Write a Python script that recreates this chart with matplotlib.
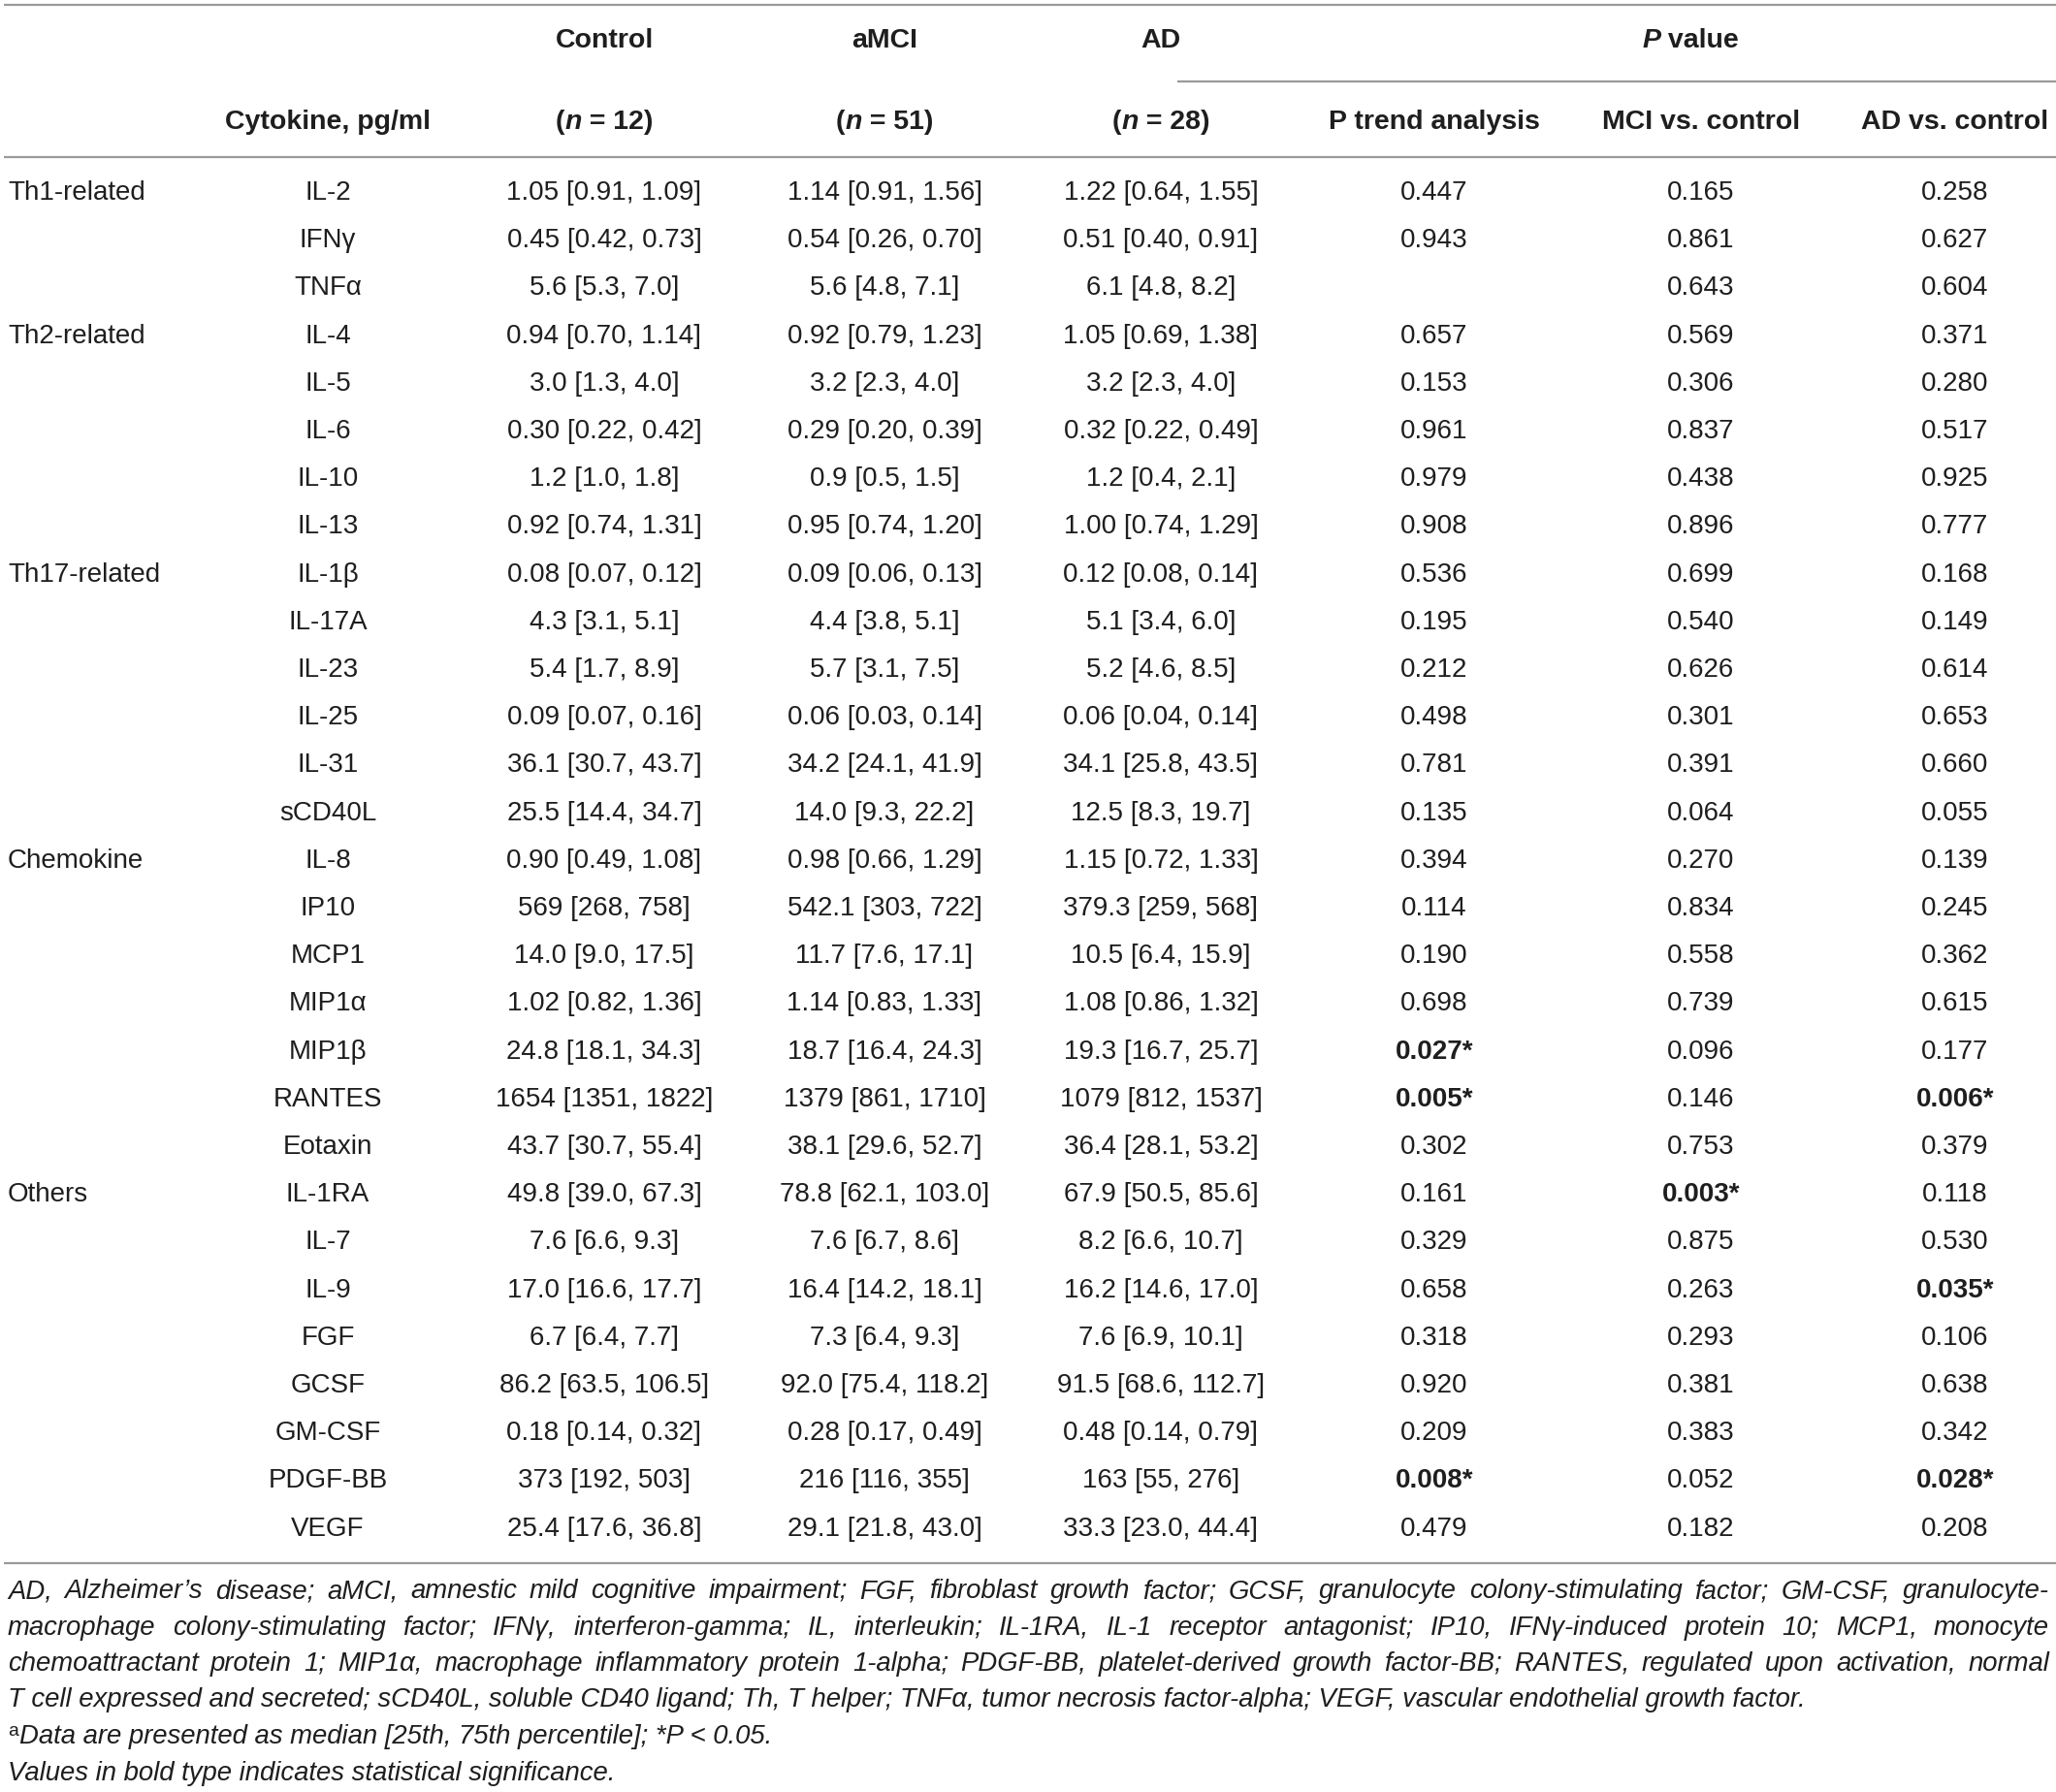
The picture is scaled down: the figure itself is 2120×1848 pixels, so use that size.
import matplotlib
matplotlib.use("Agg")
import matplotlib.pyplot as plt
from matplotlib.font_manager import FontProperties

# ---------------- data ----------------
groups = ["Th1-related", "Th2-related", "Th17-related", "Chemokine", "Others"]
group_start = [0, 3, 8, 14, 21]

cytokines = ["IL-2", "IFNγ", "TNFα", "IL-4", "IL-5", "IL-6", "IL-10", "IL-13",
             "IL-1β", "IL-17A", "IL-23", "IL-25", "IL-31", "sCD40L",
             "IL-8", "IP10", "MCP1", "MIP1α", "MIP1β", "RANTES", "Eotaxin",
             "IL-1RA", "IL-7", "IL-9", "FGF", "GCSF", "GM-CSF", "PDGF-BB", "VEGF"]

control = ["1.05 [0.91, 1.09]", "0.45 [0.42, 0.73]", "5.6 [5.3, 7.0]", "0.94 [0.70, 1.14]",
           "3.0 [1.3, 4.0]", "0.30 [0.22, 0.42]", "1.2 [1.0, 1.8]", "0.92 [0.74, 1.31]",
           "0.08 [0.07, 0.12]", "4.3 [3.1, 5.1]", "5.4 [1.7, 8.9]", "0.09 [0.07, 0.16]",
           "36.1 [30.7, 43.7]", "25.5 [14.4, 34.7]", "0.90 [0.49, 1.08]", "569 [268, 758]",
           "14.0 [9.0, 17.5]", "1.02 [0.82, 1.36]", "24.8 [18.1, 34.3]", "1654 [1351, 1822]",
           "43.7 [30.7, 55.4]", "49.8 [39.0, 67.3]", "7.6 [6.6, 9.3]", "17.0 [16.6, 17.7]",
           "6.7 [6.4, 7.7]", "86.2 [63.5, 106.5]", "0.18 [0.14, 0.32]", "373 [192, 503]",
           "25.4 [17.6, 36.8]"]

amci = ["1.14 [0.91, 1.56]", "0.54 [0.26, 0.70]", "5.6 [4.8, 7.1]", "0.92 [0.79, 1.23]",
        "3.2 [2.3, 4.0]", "0.29 [0.20, 0.39]", "0.9 [0.5, 1.5]", "0.95 [0.74, 1.20]",
        "0.09 [0.06, 0.13]", "4.4 [3.8, 5.1]", "5.7 [3.1, 7.5]", "0.06 [0.03, 0.14]",
        "34.2 [24.1, 41.9]", "14.0 [9.3, 22.2]", "0.98 [0.66, 1.29]", "542.1 [303, 722]",
        "11.7 [7.6, 17.1]", "1.14 [0.83, 1.33]", "18.7 [16.4, 24.3]", "1379 [861, 1710]",
        "38.1 [29.6, 52.7]", "78.8 [62.1, 103.0]", "7.6 [6.7, 8.6]", "16.4 [14.2, 18.1]",
        "7.3 [6.4, 9.3]", "92.0 [75.4, 118.2]", "0.28 [0.17, 0.49]", "216 [116, 355]",
        "29.1 [21.8, 43.0]"]

ad = ["1.22 [0.64, 1.55]", "0.51 [0.40, 0.91]", "6.1 [4.8, 8.2]", "1.05 [0.69, 1.38]",
      "3.2 [2.3, 4.0]", "0.32 [0.22, 0.49]", "1.2 [0.4, 2.1]", "1.00 [0.74, 1.29]",
      "0.12 [0.08, 0.14]", "5.1 [3.4, 6.0]", "5.2 [4.6, 8.5]", "0.06 [0.04, 0.14]",
      "34.1 [25.8, 43.5]", "12.5 [8.3, 19.7]", "1.15 [0.72, 1.33]", "379.3 [259, 568]",
      "10.5 [6.4, 15.9]", "1.08 [0.86, 1.32]", "19.3 [16.7, 25.7]", "1079 [812, 1537]",
      "36.4 [28.1, 53.2]", "67.9 [50.5, 85.6]", "8.2 [6.6, 10.7]", "16.2 [14.6, 17.0]",
      "7.6 [6.9, 10.1]", "91.5 [68.6, 112.7]", "0.48 [0.14, 0.79]", "163 [55, 276]",
      "33.3 [23.0, 44.4]"]

p_trend = ["0.447", "0.943", "", "0.657", "0.153", "0.961", "0.979", "0.908", "0.536",
           "0.195", "0.212", "0.498", "0.781", "0.135", "0.394", "0.114", "0.190", "0.698",
           "0.027*", "0.005*", "0.302", "0.161", "0.329", "0.658", "0.318", "0.920",
           "0.209", "0.008*", "0.479"]
p_mci = ["0.165", "0.861", "0.643", "0.569", "0.306", "0.837", "0.438", "0.896", "0.699",
         "0.540", "0.626", "0.301", "0.391", "0.064", "0.270", "0.834", "0.558", "0.739",
         "0.096", "0.146", "0.753", "0.003*", "0.875", "0.263", "0.293", "0.381", "0.383",
         "0.052", "0.182"]
p_ad = ["0.258", "0.627", "0.604", "0.371", "0.280", "0.517", "0.925", "0.777", "0.168",
        "0.149", "0.614", "0.653", "0.660", "0.055", "0.139", "0.245", "0.362", "0.615",
        "0.177", "0.006*", "0.379", "0.118", "0.530", "0.035*", "0.106", "0.638", "0.342",
        "0.028*", "0.208"]

group_headers = ["Control", "aMCI", "AD"]
group_n = ["12", "51", "28"]
p_headers = ["P trend analysis", "MCI vs. control", "AD vs. control"]

footnote_lines = [
    "AD, Alzheimer’s disease; aMCI, amnestic mild cognitive impairment; FGF, fibroblast growth "
    "factor; GCSF, granulocyte colony-stimulating factor; GM-CSF, granulocyte-",
    "macrophage colony-stimulating factor; IFNγ, interferon-gamma; IL, interleukin; IL-1RA, "
    "IL-1 receptor antagonist; IP10, IFNγ-induced protein 10; MCP1, monocyte",
    "chemoattractant protein 1; MIP1α, macrophage inflammatory protein 1-alpha; PDGF-BB, "
    "platelet-derived growth factor-BB; RANTES, regulated upon activation, normal",
    "T cell expressed and secreted; sCD40L, soluble CD40 ligand; Th, T helper; TNFα, "
    "tumor necrosis factor-alpha; VEGF, vascular endothelial growth factor.",
]
footnote_a = "Data are presented as median [25th, 75th percentile]; *P < 0.05."
footnote_b = "Values in bold type indicates statistical significance."

# ---------------- layout ----------------
W, H = 2120, 1848
FAM = "Liberation Sans"
TXT = "#1e1e1e"
LINE = "#9a9a9a"
FS = 20
FSH = 20.5

fig = plt.figure(figsize=(W / 100, H / 100), dpi=100)
ax = fig.add_axes([0, 0, 1, 1])
ax.set_xlim(0, W)
ax.set_ylim(H, 0)
ax.axis("off")
renderer = fig.canvas.get_renderer()

x_group = 8
x_cols = [338, 623, 912, 1197, 1479, 1754, 2016]
y_h1, y_h2 = 42, 126
y0, dy = 199, 49.2


def tw(s, fp):
    t = ax.text(0, 0, s, fontproperties=fp)
    w = t.get_window_extent(renderer).width
    t.remove()
    return w


def runs(x, y, parts, ha="center", size=FSH):
    fps = [FontProperties(family=FAM, size=size, weight=w, style=st) for (_, w, st) in parts]
    widths = [tw(p[0], fp) for p, fp in zip(parts, fps)]
    total = sum(widths)
    cx = x - total / 2 if ha == "center" else x
    for (s, w, st), fp, wd in zip(parts, fps, widths):
        ax.text(cx, y, s, fontproperties=fp, color=TXT, va="center", ha="left")
        cx += wd


# rules
ax.plot([4, W], [5, 5], color=LINE, lw=1.6, solid_capstyle="butt")
ax.plot([1214, W], [84, 84], color=LINE, lw=1.6, solid_capstyle="butt")
ax.plot([4, W], [162, 162], color=LINE, lw=1.6, solid_capstyle="butt")
ax.plot([4, W], [1612, 1612], color=LINE, lw=1.6, solid_capstyle="butt")

# headers
for x, g, n in zip(x_cols[1:4], group_headers, group_n):
    ax.text(x, y_h1, g, fontsize=FSH, family=FAM, weight="bold", ha="center", va="center", color=TXT)
    runs(x, y_h2, [("(", "bold", "normal"), ("n", "bold", "italic"), (" = " + n + ")", "bold", "normal")])
runs(1743, y_h1, [("P", "bold", "italic"), (" value", "bold", "normal")])
ax.text(x_cols[0], y_h2, "Cytokine, pg/ml", fontsize=FSH, family=FAM, weight="bold",
        ha="center", va="center", color=TXT)
for x, s in zip(x_cols[4:], p_headers):
    ax.text(x, y_h2, s, fontsize=FSH, family=FAM, weight="bold", ha="center", va="center", color=TXT)

# body
for g, i0 in zip(groups, group_start):
    ax.text(x_group, y0 + i0 * dy, g, fontsize=FS, family=FAM, ha="left", va="center", color=TXT)

cols = [cytokines, control, amci, ad, p_trend, p_mci, p_ad]
for ci, col in enumerate(cols):
    for i, s in enumerate(col):
        bold = s.endswith("*")
        ax.text(x_cols[ci], y0 + i * dy, s, fontsize=FS, family=FAM,
                weight="bold" if bold else "normal", ha="center", va="center", color=TXT)

# footnotes: fit size so the last paragraph line roughly matches reference width
left, right = 8, 2113
probe = FontProperties(family=FAM, size=10, style="italic")
FSF = 10 * 1826 / tw(footnote_lines[-1], probe) * 1.02
fpf = FontProperties(family=FAM, size=FSF, style="italic")

yf0, dyf = 1641, 37.5
for li, line in enumerate(footnote_lines):
    y = yf0 + li * dyf
    lw_ = line.split(" ")
    if li < len(footnote_lines) - 1:
        widths = [tw(w_, fpf) for w_ in lw_]
        gap = (right - left - sum(widths)) / (len(lw_) - 1)
        cx = left
        for w_, wd in zip(lw_, widths):
            ax.text(cx, y, w_, fontproperties=fpf, color=TXT, va="center", ha="left")
            cx += wd + gap
    else:
        ax.text(left, y, line, fontproperties=fpf, color=TXT, va="center", ha="left")

ya = yf0 + len(footnote_lines) * dyf
fps = FontProperties(family=FAM, size=FSF * 0.7)
ax.text(left, ya - 6, "a", fontproperties=fps, color=TXT, va="center", ha="left")
ax.text(left + tw("a", fps) + 1, ya, footnote_a, fontproperties=fpf, color=TXT, va="center", ha="left")
ax.text(left, ya + dyf, footnote_b, fontproperties=fpf, color=TXT, va="center", ha="left")

fig.savefig("out.png", dpi=100, facecolor="white")
